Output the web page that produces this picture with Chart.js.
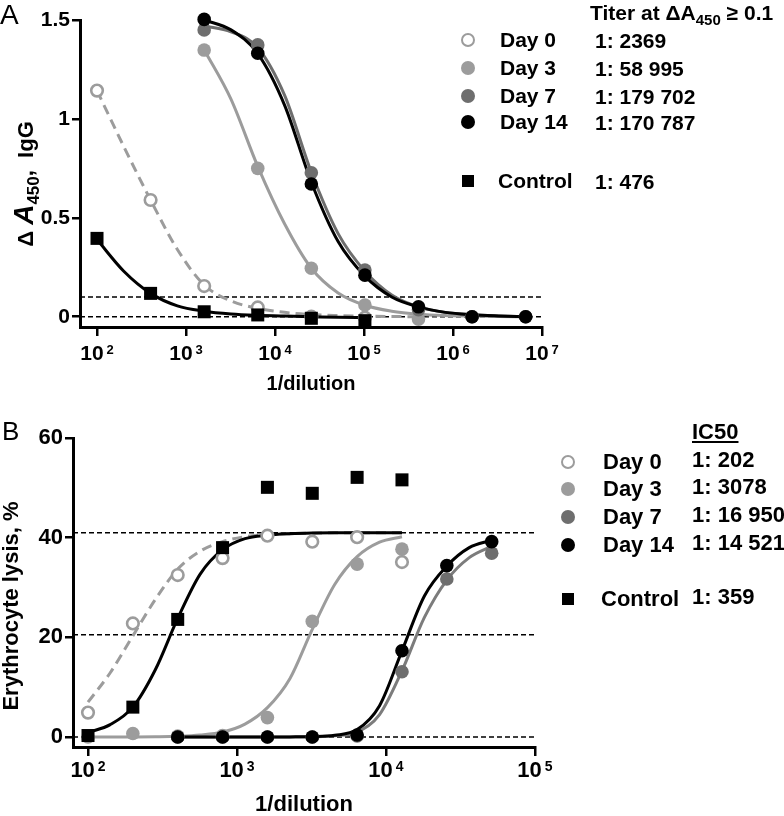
<!DOCTYPE html>
<html>
<head>
<meta charset="utf-8">
<script src="https://cdn.jsdelivr.net/npm/chart.js@4.4.0/dist/chart.umd.min.js"></script>
<style>
  html, body { margin: 0; padding: 0; background: #fff; overflow: hidden; }
  body { width: 784px; height: 816px; position: relative; font-family: "Liberation Sans", Arial, sans-serif; color: #000; }
  canvas { position: absolute; left: 0; }
  .t { position: absolute; white-space: nowrap; font-weight: bold; height: 24px; line-height: 24px; }
  .t sub { font-size: 15px; line-height: 0; vertical-align: -5px; }
  .mk { position: absolute; box-sizing: border-box; }
</style>
</head>
<body>
<canvas id="chartA" width="784" height="400" style="top:0"></canvas>
<canvas id="chartB" width="784" height="416" style="top:400px"></canvas>

<div style="position:absolute;left:0;top:1px;font-size:28px;line-height:28px">A</div>
<div style="position:absolute;left:2px;top:418px;font-size:26px;line-height:26px">B</div>

<div class="t" style="position:absolute;left:24px;top:184px;transform:translate(-50%,-50%) rotate(-90deg);font-size:22px;height:30px;line-height:30px">&Delta; <i style="font-size:28px">A</i><sub style="font-size:17px;vertical-align:-6px">450</sub>,&nbsp; IgG</div>
<div class="t" style="position:absolute;left:11px;top:606px;transform:translate(-50%,-50%) rotate(-90deg);font-size:22px">Erythrocyte lysis, %</div>

<div class="t" style="left:590px;top:1px;font-size:21px">Titer at &Delta;A<sub>450</sub> &ge; 0.1</div>
<div class="t" style="left:692px;top:420px;font-size:22px;text-decoration:underline">IC50</div>

<div id="legends"></div>

<script>
// series names / legend texts
const seriesNames = ['Day 0', 'Day 3', 'Day 7', 'Day 14'];
const controlName = 'Control';
const titersA = ['1: 2369', '1: 58 995', '1: 179 702', '1: 170 787'];
const titerControlA = '1: 476';
const ic50B = ['1: 202', '1: 3078', '1: 16 950', '1: 14 521'];
const ic50ControlB = '1: 359';

// panel A: ELISA, 4-fold dilutions
const dilA = [100, 400, 1600, 6400, 25600, 102400, 409600, 1638400, 6553600];
const aDay0 = [1.143, 0.59, 0.155, 0.047, 0.0, -0.005, null, null, null];
const aDay3 = [null, null, 1.348, 0.75, 0.245, 0.059, -0.012, 0.0, 0.0];
const aDay7 = [null, null, 1.45, 1.374, 0.728, 0.236, 0.035, 0.0, 0.0];
const aDay14 = [null, null, 1.503, 1.332, 0.671, 0.21, 0.05, 0.0, 0.0];
const aControl = [0.396, 0.118, 0.025, 0.009, -0.008, -0.02, null, null, null];

// fitted curves
const fitXA = [100, 200, 400, 800, 1600, 3200, 6400, 12800, 25600, 51200, 102400, 204800, 409600, 819200, 1638400, 3276800, 6553600];
const fitADay0 = [1.143, 0.86, 0.59, 0.34, 0.16, 0.08, 0.042, 0.022, 0.011, 0.006, 0.003, 0.001, 0.0, null, null, null, null];
const fitADay3 = [null, null, null, null, 1.35, 1.10, 0.76, 0.47, 0.245, 0.12, 0.058, 0.028, 0.013, 0.006, 0.003, 0.001, 0.0];
const fitADay7 = [null, null, null, null, 1.47, 1.44, 1.36, 1.12, 0.73, 0.42, 0.23, 0.11, 0.05, 0.022, 0.01, 0.004, 0.0];
const fitADay14 = [null, null, null, null, 1.50, 1.45, 1.33, 1.07, 0.68, 0.38, 0.205, 0.10, 0.05, 0.022, 0.01, 0.004, 0.0];
const fitAControl = [0.39, 0.23, 0.118, 0.055, 0.028, 0.014, 0.007, 0.003, 0.0, -0.003, -0.005, null, null, null, null, null, null];

const hLinesA = [0, 0.1];
const xTicksA = [1e2, 1e3, 1e4, 1e5, 1e6, 1e7];
const xTickExpA = ['2', '3', '4', '5', '6', '7'];
const yTicksA = [0, 0.5, 1, 1.5];
const yTickLabelsA = ['0', '0.5', '1', '1.5'];

// panel B: hemolysis, 2-fold dilutions
const dilB = [100, 200, 400, 800, 1600, 3200, 6400, 12800, 25600, 51200];
const bDay0 = [4.9, 22.8, 32.5, 35.9, 40.4, 39.2, 40.1, 35.1, null, null];
const bDay3 = [0.0, 0.7, 0.2, 0.3, 3.9, 23.2, 34.7, 37.7, null, null];
const bDay7 = [null, null, 0.0, 0.0, 0.0, 0.0, 0.2, 13.1, 31.7, 36.9];
const bDay14 = [null, null, 0.0, 0.0, 0.0, 0.0, 0.4, 17.3, 34.4, 39.2];
const bControl = [0.3, 6.0, 23.6, 38.0, 50.1, 48.9, 52.1, 51.6, null, null];

// fitted curves
const fitXB = [100, 141, 200, 283, 400, 566, 800, 1131, 1600, 2263, 3200, 4525, 6400, 9051, 12800, 18102, 25600, 36204, 51200];
const fitBDay0 = [7.0, 12.9, 20.3, 27.6, 33.7, 37.3, 39.2, 40.2, 40.6, 40.8, 40.9, 41, 41, 41, 41, null, null, null, null];
const fitBDay3 = [0.0, 0.0, 0.02, 0.06, 0.15, 0.4, 1.0, 2.6, 5.9, 11.7, 21.6, 30.6, 36.2, 39.1, 40.2, null, null, null, null];
const fitBDay7 = [null, null, null, null, 0.0, 0.0, 0.0, 0.0, 0.01, 0.02, 0.06, 0.25, 1.0, 4.5, 13.3, 24.0, 31.5, 36.0, 38.3];
const fitBDay14 = [null, null, null, null, 0.0, 0.0, 0.0, 0.0, 0.01, 0.03, 0.08, 0.35, 1.5, 6.3, 17.3, 28.3, 34.3, 38.0, 39.5];
const fitBControl = [0.9, 2.5, 6.0, 13.5, 23.8, 32.7, 37.6, 39.8, 40.5, 40.8, 40.95, 41, 41, 41, 41, null, null, null, null];

const hLinesB = [0, 20.5, 41];
const xTicksB = [1e2, 1e3, 1e4, 1e5];
const xTickExpB = ['2', '3', '4', '5'];
const yTicksB = [0, 20, 40, 60];
const yTickLabelsB = ['0', '20', '40', '60'];

const LIGHT = '#9c9c9c';
const MID = '#6e6e6e';
const BLACK = '#000000';
const FONT = '"Liberation Sans", Arial, sans-serif';

function pts (xs, ys) {
  const out = [];
  xs.forEach((x, i) => {
    if (ys[i] !== null && ys[i] !== undefined) out.push({ x: x, y: ys[i] });
  });
  return out;
}

function markers (xs, ys, color, style) {
  const ds = {
    data: pts(xs, ys), showLine: false, clip: false, order: 0,
    pointStyle: 'circle', pointRadius: 6.8, pointBackgroundColor: color,
    pointBorderColor: color, pointBorderWidth: 0
  };
  if (style === 'open') {
    ds.pointRadius = 5.8; ds.pointBackgroundColor = '#fff'; ds.pointBorderWidth = 2.6;
  }
  if (style === 'square') {
    ds.pointStyle = 'rect'; ds.pointRadius = 9.2;
  }
  return ds;
}

function curve (xs, ys, color, dashed) {
  return {
    data: pts(xs, ys), showLine: true, clip: false, order: 1,
    borderColor: color, borderWidth: 3, borderDash: dashed ? [10, 6] : [],
    pointRadius: 0, cubicInterpolationMode: 'monotone', fill: false
  };
}

function hline (y, xmin, xmax) {
  return {
    data: [{ x: xmin, y: y }, { x: xmax, y: y }], showLine: true, clip: false, order: 2,
    borderColor: BLACK, borderWidth: 1.5, borderDash: [5, 3], pointRadius: 0, tension: 0
  };
}

// x tick labels as 10 with a raised exponent
const powerTicks = {
  id: 'powerTicks',
  afterDraw (chart) {
    const o = chart.options.plugins.powerTicks;
    const s = chart.scales.x;
    const ctx = chart.ctx;
    ctx.save();
    ctx.fillStyle = BLACK;
    ctx.textBaseline = 'alphabetic';
    ctx.textAlign = 'left';
    s.ticks.forEach((t, i) => {
      const px = s.getPixelForValue(t.value);
      const exp = o.exps[i];
      ctx.font = `bold ${o.size}px ${FONT}`;
      const wb = ctx.measureText('10').width;
      ctx.font = `bold ${o.expSize}px ${FONT}`;
      const we = ctx.measureText(exp).width;
      const x0 = px - (wb + o.gap + we) / 2;
      const yb = s.top + o.dy;
      ctx.font = `bold ${o.size}px ${FONT}`;
      ctx.fillText('10', x0, yb);
      ctx.font = `bold ${o.expSize}px ${FONT}`;
      ctx.fillText(exp, x0 + wb + o.gap, yb - 0.716 * (o.size - o.expSize));
    });
    ctx.restore();
  }
};

function makeOptions (cfg) {
  return {
    responsive: false,
    animation: false,
    events: [],
    layout: { padding: cfg.padding },
    plugins: {
      legend: { display: false }, tooltip: { enabled: false },
      powerTicks: { exps: cfg.xExps, size: cfg.tickSize, expSize: cfg.expSize, gap: 3, dy: cfg.labelDy }
    },
    scales: {
      x: {
        type: 'logarithmic', min: cfg.xmin, max: cfg.xmax,
        afterBuildTicks: s => { s.ticks = cfg.xTicks.map(v => ({ value: v })); },
        afterFit: s => { s.height = cfg.xHeight; },
        ticks: { display: false },
        grid: { drawOnChartArea: false, drawTicks: true, tickLength: 9, color: BLACK, lineWidth: 2.5 },
        border: { display: true, color: BLACK, width: 3 },
        title: {
          display: true, text: '1/dilution', color: BLACK,
          font: { family: FONT, size: cfg.titleSize, weight: 'bold', lineHeight: 1 },
          padding: { top: 0, bottom: cfg.titlePad }
        }
      },
      y: {
        min: cfg.ymin, max: cfg.ymax,
        afterBuildTicks: s => { s.ticks = cfg.yTicks.map(v => ({ value: v })); },
        afterFit: s => { s.width = cfg.yWidth; },
        ticks: {
          color: BLACK, padding: 2,
          font: { family: FONT, size: cfg.tickSize, weight: 'bold' },
          callback: v => cfg.yLabels[cfg.yTicks.indexOf(v)]
        },
        grid: { drawOnChartArea: false, drawTicks: true, tickLength: 8, color: BLACK, lineWidth: 2.5 },
        border: { display: true, color: BLACK, width: 3 }
      }
    }
  };
}

// panel A
const xminA = 64.4, xmaxA = 1e7;
new Chart(document.getElementById('chartA'), {
  type: 'scatter',
  data: {
    datasets: [
      markers(dilA, aControl, BLACK, 'square'),
      markers(dilA, aDay14, BLACK),
      markers(dilA, aDay7, MID),
      markers(dilA, aDay3, LIGHT),
      markers(dilA, aDay0, LIGHT, 'open'),
      curve(fitXA, fitAControl, BLACK),
      curve(fitXA, fitADay14, BLACK),
      curve(fitXA, fitADay7, MID),
      curve(fitXA, fitADay3, LIGHT),
      curve(fitXA, fitADay0, LIGHT, true),
      ...hLinesA.map(y => hline(y, xminA, xmaxA))
    ]
  },
  options: makeOptions({
    padding: { left: 0, top: 20, right: 242, bottom: 0 },
    xmin: xminA, xmax: xmaxA, ymin: -0.052, ymax: 1.5,
    xTicks: xTicksA, xExps: xTickExpA, yTicks: yTicksA, yLabels: yTickLabelsA,
    xHeight: 73, yWidth: 80, tickSize: 21, expSize: 13, labelDy: 33, titleSize: 20, titlePad: 6
  }),
  plugins: [powerTicks]
});

// panel B
const xminB = 79.3, xmaxB = 1e5;
new Chart(document.getElementById('chartB'), {
  type: 'scatter',
  data: {
    datasets: [
      markers(dilB, bControl, BLACK, 'square'),
      markers(dilB, bDay14, BLACK),
      markers(dilB, bDay7, MID),
      markers(dilB, bDay3, LIGHT),
      markers(dilB, bDay0, LIGHT, 'open'),
      curve(fitXB, fitBControl, BLACK),
      curve(fitXB, fitBDay14, BLACK),
      curve(fitXB, fitBDay7, '#7c7c7c'),
      curve(fitXB, fitBDay3, LIGHT),
      curve(fitXB, fitBDay0, LIGHT, true),
      ...hLinesB.map(y => hline(y, xminB, xmaxB))
    ]
  },
  options: makeOptions({
    padding: { left: 0, top: 38, right: 249, bottom: 0 },
    xmin: xminB, xmax: xmaxB, ymin: -2, ymax: 60,
    xTicks: xTicksB, xExps: xTickExpB, yTicks: yTicksB, yLabels: yTickLabelsB,
    xHeight: 69, yWidth: 73, tickSize: 22, expSize: 14, labelDy: 30, titleSize: 22, titlePad: 0
  }),
  plugins: [powerTicks]
});

// legends (HTML text next to the plots)
const legendColors = [LIGHT, LIGHT, MID, BLACK];
function legendBlock (cfg) {
  const host = document.getElementById('legends');
  const rows = cfg.rowsY.concat([cfg.controlY]);
  rows.forEach((cy, i) => {
    const isControl = i === cfg.rowsY.length;
    const mk = document.createElement('div');
    mk.className = 'mk';
    if (isControl) {
      mk.style.cssText = `left:${cfg.mx - 6}px;top:${cy - 6}px;width:12px;height:12px;background:#000`;
    } else if (i === 0) {
      mk.style.cssText = `left:${cfg.mx - 7}px;top:${cy - 7}px;width:14px;height:14px;border-radius:50%;border:2.6px solid ${LIGHT};background:#fff`;
    } else {
      mk.style.cssText = `left:${cfg.mx - 7}px;top:${cy - 7}px;width:14px;height:14px;border-radius:50%;background:${legendColors[i]}`;
    }
    host.appendChild(mk);
    const name = document.createElement('div');
    name.className = 't';
    name.style.cssText = `left:${isControl ? cfg.nx - 2 : cfg.nx}px;top:${cy - 12}px;font-size:${cfg.size}px`;
    name.textContent = isControl ? controlName : seriesNames[i];
    host.appendChild(name);
    const val = document.createElement('div');
    val.className = 't';
    val.style.cssText = `left:${cfg.vx}px;top:${cy - 12 + (cfg.vdy || 0)}px;font-size:${cfg.size}px`;
    val.textContent = isControl ? cfg.controlText : cfg.texts[i];
    host.appendChild(val);
  });
}
legendBlock({ mx: 468, nx: 500, vx: 595, rowsY: [40, 68, 96, 122], controlY: 181, size: 21, texts: titersA, controlText: titerControlA, vdy: 1 });
legendBlock({ mx: 568, nx: 603, vx: 692, rowsY: [462, 489, 517, 545], controlY: 599, size: 22, texts: ic50B, controlText: ic50ControlB, vdy: -2 });
</script>
</body>
</html>
